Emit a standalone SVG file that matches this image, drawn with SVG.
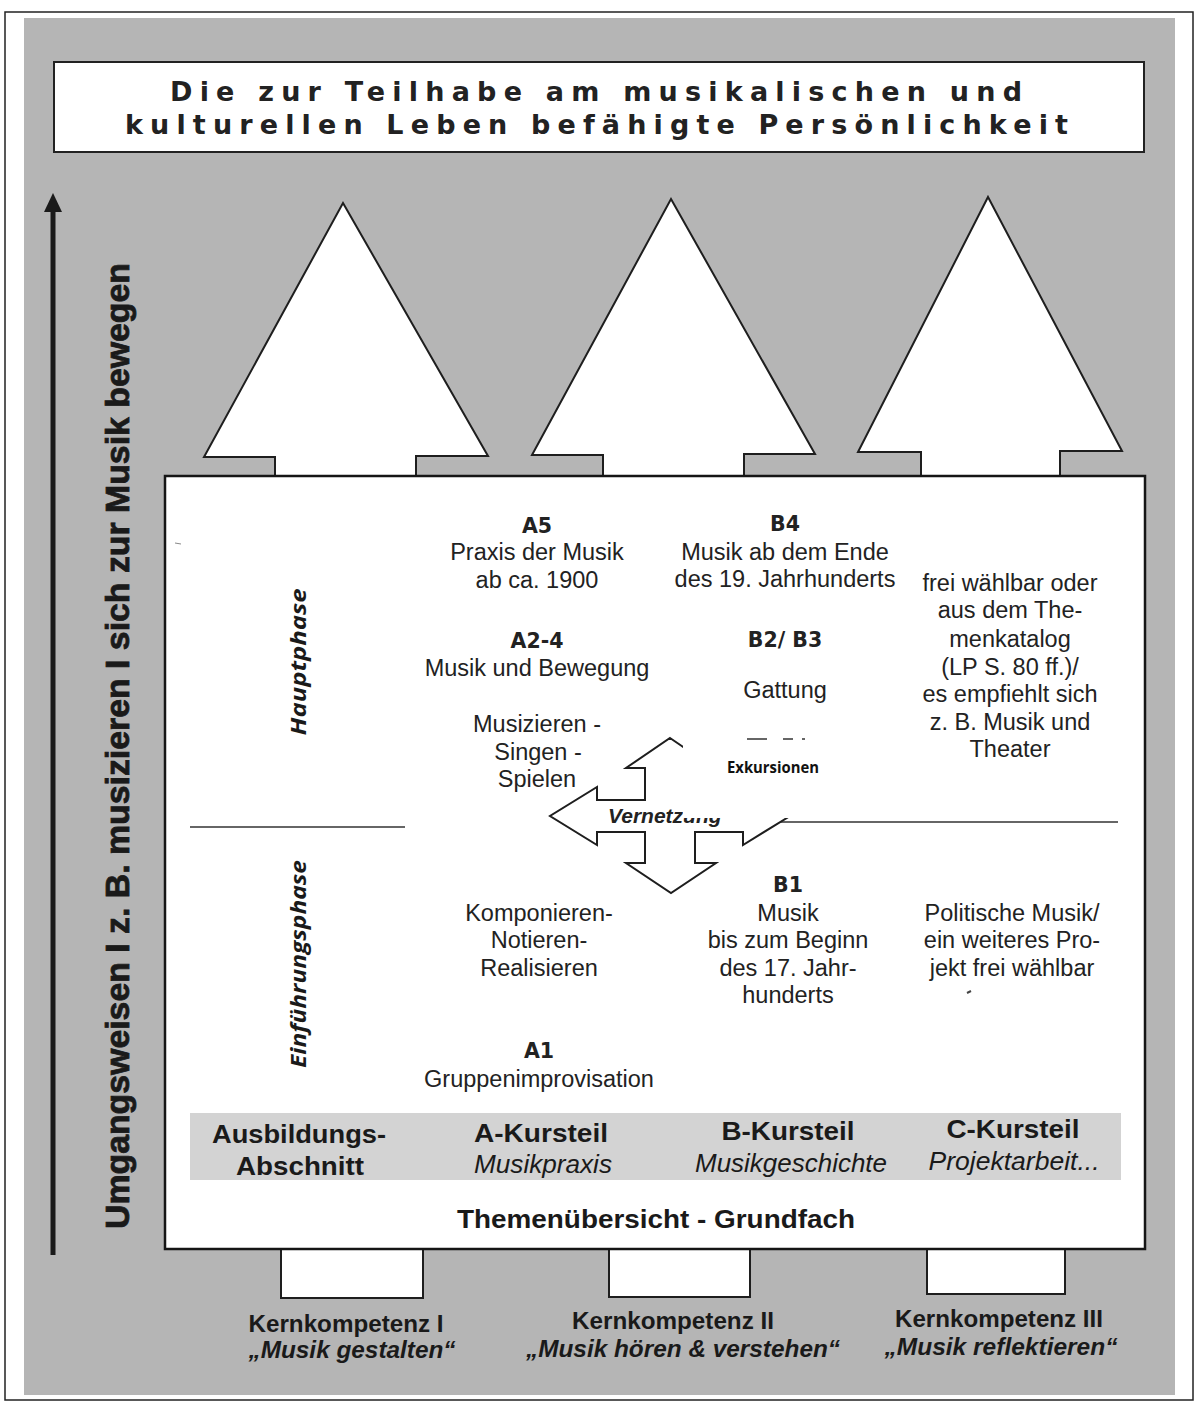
<svg xmlns="http://www.w3.org/2000/svg" width="1196" height="1403" viewBox="0 0 1196 1403">
<style>
.shape{fill:#fff;stroke:#1e1e1e;stroke-width:2;stroke-linejoin:miter}
.body{font-family:"Liberation Sans",Arial,sans-serif;font-size:23.5px;fill:#222;text-anchor:middle}
.lbl{font-family:"DejaVu Sans",Verdana,sans-serif;font-weight:bold;font-size:20.5px;fill:#222;text-anchor:middle}
.cond{font-family:"Liberation Sans",Arial,sans-serif;font-weight:bold;fill:#1a1a1a;text-anchor:middle}
.condi{font-family:"Liberation Sans",Arial,sans-serif;font-style:italic;fill:#1a1a1a;text-anchor:middle}
.phase{font-family:"Open Sans","DejaVu Sans",sans-serif;font-weight:bold;font-style:italic;font-size:22px;fill:#1a1a1a;text-anchor:middle}
.title{font-family:"DejaVu Sans",Verdana,sans-serif;font-weight:bold;font-size:27px;fill:#222}
.div{stroke:#333;stroke-width:1.5}
</style>

<!-- page frame -->
<rect x="0" y="0" width="1196" height="1403" fill="#fff"/>
<rect x="5" y="12" width="1188" height="1388" fill="#fff" stroke="#222" stroke-width="1.5"/>
<rect x="24" y="18" width="1151" height="1377" fill="#b5b5b5"/>

<!-- title -->
<g id="title">
<rect x="54" y="62" width="1090" height="90" fill="#fff" stroke="#222" stroke-width="2"/>
<text class="title" x="170" y="101" textLength="852" lengthAdjust="spacing">Die zur Teilhabe am musikalischen und</text>
<text class="title" x="125" y="134" textLength="943" lengthAdjust="spacing">kulturellen Leben befähigte Persönlichkeit</text>
</g>

<!-- big upward arrows -->
<g id="arrow-kk1">
<path class="shape" d="M343,203 L488,456 L416,456 L416,480 L275,480 L275,457 L204,457 Z"/>
<rect class="shape" x="281" y="1240" width="142" height="58"/>
</g>
<g id="arrow-kk2">
<path class="shape" d="M671,199 L815,454 L744,454 L744,480 L603,480 L603,455 L532,455 Z"/>
<rect class="shape" x="609" y="1240" width="141" height="57"/>
</g>
<g id="arrow-kk3">
<path class="shape" d="M988,197 L1122,451 L1060,451 L1060,480 L921,480 L921,452 L858,452 Z"/>
<rect class="shape" x="927" y="1240" width="138" height="54"/>
</g>

<!-- main box -->
<g id="main-box">
<rect x="165" y="476" width="980" height="773" fill="#fff" stroke="#151515" stroke-width="2.5"/>
<line class="div" x1="190" y1="827" x2="405" y2="827"/>
<line class="div" x1="700" y1="822" x2="1118" y2="822"/>
<line x1="175" y1="543" x2="181" y2="544" stroke="#888" stroke-width="1"/>
<line x1="967" y1="993" x2="971" y2="991" stroke="#444" stroke-width="2"/>
</g>

<!-- phases -->
<g id="phase-haupt"><text class="phase" transform="translate(306,662) rotate(-90)" textLength="147" lengthAdjust="spacingAndGlyphs">Hauptphase</text></g>
<g id="phase-einf"><text class="phase" transform="translate(306,964) rotate(-90)" textLength="208" lengthAdjust="spacingAndGlyphs">Einführungsphase</text></g>

<!-- A column -->
<g id="a5">
<text class="lbl" x="537" y="533">A5</text>
<text class="body" x="537" y="560">Praxis der Musik</text>
<text class="body" x="537" y="588">ab ca. 1900</text>
</g>
<g id="a2-4">
<text class="lbl" x="537" y="648">A2-4</text>
<text class="body" x="537" y="676">Musik und Bewegung</text>
<text class="body" x="537" y="732">Musizieren -</text>
<text class="body" x="538" y="760">Singen -</text>
<text class="body" x="537" y="787">Spielen</text>
</g>
<g id="a-intro">
<text class="body" x="539" y="921">Komponieren-</text>
<text class="body" x="539" y="948">Notieren-</text>
<text class="body" x="539" y="976">Realisieren</text>
</g>
<g id="a1">
<text class="lbl" x="539" y="1058">A1</text>
<text class="body" x="539" y="1087">Gruppenimprovisation</text>
</g>

<!-- B column -->
<g id="b4">
<text class="lbl" x="785" y="531">B4</text>
<text class="body" x="785" y="560">Musik ab dem Ende</text>
<text class="body" x="785" y="587">des 19. Jahrhunderts</text>
</g>
<g id="b2-b3">
<text class="lbl" x="785" y="647">B2/ B3</text>
<text class="body" x="785" y="698">Gattung</text>
<line x1="747" y1="739" x2="767" y2="739" stroke="#333" stroke-width="1.5"/>
<line x1="783" y1="739" x2="793" y2="739" stroke="#333" stroke-width="1.5"/>
<line x1="802" y1="739" x2="805" y2="739" stroke="#333" stroke-width="1.5"/>
</g>
<g id="b1">
<text class="lbl" x="788" y="892">B1</text>
<text class="body" x="788" y="921">Musik</text>
<text class="body" x="788" y="948">bis zum Beginn</text>
<text class="body" x="788" y="976">des 17. Jahr-</text>
<text class="body" x="788" y="1003">hunderts</text>
</g>

<!-- C column -->
<g id="c-haupt">
<text class="body" x="1010" y="591">frei wählbar oder</text>
<text class="body" x="1010" y="618">aus dem The-</text>
<text class="body" x="1010" y="647">menkatalog</text>
<text class="body" x="1010" y="675">(LP S. 80 ff.)/</text>
<text class="body" x="1010" y="702">es empfiehlt sich</text>
<text class="body" x="1010" y="730">z. B. Musik und</text>
<text class="body" x="1010" y="757">Theater</text>
</g>
<g id="c-intro">
<text class="body" x="1012" y="921">Politische Musik/</text>
<text class="body" x="1012" y="948">ein weiteres Pro-</text>
<text class="body" x="1012" y="976">jekt frei wählbar</text>
</g>

<!-- Vernetzung cross arrow -->
<g id="vernetzung">
<path class="shape" stroke-width="1.6" d="M670,738 L714,768 L695,768 L695,800 L743,800 L743,787 L790,816 L743,845 L743,832 L695,832 L695,863 L716,863 L671,893 L626,863 L645,863 L645,832 L597,832 L597,845 L550,816 L597,787 L597,800 L645,800 L645,768 L626,768 Z"/>
<text x="608" y="823" font-family="Liberation Sans,Arial,sans-serif" font-weight="bold" font-style="italic" font-size="21" fill="#222">Vernetzung</text>
</g>
<g id="exkursionen">
<rect x="683" y="743" width="190" height="75" fill="#fff"/>
<text x="773" y="773" font-family="Open Sans,DejaVu Sans,sans-serif" font-weight="bold" font-size="16" fill="#111" text-anchor="middle" textLength="92" lengthAdjust="spacingAndGlyphs">Exkursionen</text>
</g>

<!-- band -->
<g id="band">
<rect x="190" y="1113" width="931" height="67" fill="#d3d3d3"/>
<text class="cond" x="299" y="1143" font-size="25" textLength="174" lengthAdjust="spacingAndGlyphs">Ausbildungs-</text>
<text class="cond" x="300" y="1175" font-size="25" textLength="128" lengthAdjust="spacingAndGlyphs">Abschnitt</text>
<text class="cond" x="541" y="1142" font-size="25" textLength="134" lengthAdjust="spacingAndGlyphs">A-Kursteil</text>
<text class="condi" x="543" y="1173" font-size="25" textLength="138" lengthAdjust="spacingAndGlyphs">Musikpraxis</text>
<text class="cond" x="788" y="1140" font-size="25" textLength="133" lengthAdjust="spacingAndGlyphs">B-Kursteil</text>
<text class="condi" x="791" y="1172" font-size="25" textLength="192" lengthAdjust="spacingAndGlyphs">Musikgeschichte</text>
<text class="cond" x="1013" y="1138" font-size="25" textLength="133" lengthAdjust="spacingAndGlyphs">C-Kursteil</text>
<text class="condi" x="1014" y="1170" font-size="25" textLength="171" lengthAdjust="spacingAndGlyphs">Projektarbeit...</text>
</g>
<g id="box-title">
<text class="cond" x="656" y="1228" font-size="26" textLength="398" lengthAdjust="spacingAndGlyphs">Themenübersicht - Grundfach</text>
</g>

<!-- core competences -->
<g id="kk1">
<text class="cond" x="346" y="1332" font-size="23" textLength="195" lengthAdjust="spacingAndGlyphs">Kernkompetenz I</text>
<text class="cond" x="352" y="1358" font-size="23" font-style="italic" textLength="207" lengthAdjust="spacingAndGlyphs">„Musik gestalten“</text>
</g>
<g id="kk2">
<text class="cond" x="673" y="1329" font-size="23" textLength="202" lengthAdjust="spacingAndGlyphs">Kernkompetenz II</text>
<text class="cond" x="683" y="1357" font-size="23" font-style="italic" textLength="314" lengthAdjust="spacingAndGlyphs">„Musik hören &amp; verstehen“</text>
</g>
<g id="kk3">
<text class="cond" x="999" y="1327" font-size="23" textLength="208" lengthAdjust="spacingAndGlyphs">Kernkompetenz III</text>
<text class="cond" x="1001" y="1355" font-size="23" font-style="italic" textLength="233" lengthAdjust="spacingAndGlyphs">„Musik reflektieren“</text>
</g>

<!-- vertical axis -->
<g id="connectors">
<line x1="53" y1="1255" x2="53" y2="208" stroke="#1a1a1a" stroke-width="5"/>
<polygon points="53,193 44,212 62,212" fill="#1a1a1a"/>
</g>
<g id="axis-label">
<text class="cond" transform="translate(129,746) rotate(-90)" font-size="34" font-weight="bold" stroke="#1a1a1a" stroke-width="0.8" textLength="966" lengthAdjust="spacingAndGlyphs">Umgangsweisen I z. B. musizieren I sich zur Musik bewegen</text>
</g>
</svg>
